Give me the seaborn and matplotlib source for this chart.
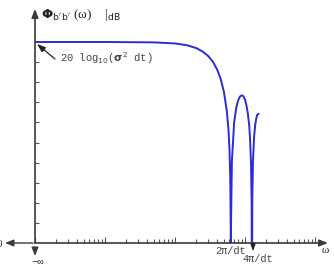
import numpy as np
import pandas as pd
import matplotlib
matplotlib.use("Agg")
import matplotlib.pyplot as plt
import seaborn as sns
from matplotlib.ticker import LogLocator, FixedLocator, NullFormatter

# ---- data (omega with dt = 1, level in dB) ----
omega = [0.01, 0.1, 0.5, 1.0, 1.5, 2.0, 2.5, 3.0, 3.5, 4.0, 4.5, 5.0, 5.5, 5.8, 6.0,
         6.15, 6.25, 6.2832, 6.32, 6.5, 7.0, 7.5, 8.0, 8.5, 9.0, 9.5, 10.0, 10.5, 11.0,
         11.5, 11.8, 12.2, 12.45, 12.566, 12.7, 13.0, 13.5, 14.0, 14.5, 15.0, 15.7]
level_db = [0.0, 0.0, -0.09, -0.36, -0.82, -1.50, -2.40, -3.54, -4.99, -6.85, -9.22,
            -12.42, -17.18, -21.7, -26.6, -33.3, -45.5, -80.0, -44.7, -29.6, -19.98,
            -16.34, -14.46, -13.55, -13.26, -13.50, -14.34, -15.80, -17.84, -20.9,
            -23.97, -30.5, -40.6, -80.0, -39.6, -29.6, -23.5, -20.55, -19.0, -18.06, -17.9]
ytick_vals = [-45, -40, -35, -30, -25, -20, -15, -10, -5]

df = pd.DataFrame({"omega": omega, "dB": level_db})

sns.set_style("white")
plt.rcParams["font.family"] = ["DejaVu Sans"]

W, H = 334, 269
fig = plt.figure(figsize=(W / 100, H / 100), dpi=100)
left_px, right_px, bottom_px, top_px = 35, 328, 243, 9
ax = fig.add_axes([left_px / W, (H - bottom_px) / H,
                   (right_px - left_px) / W, (bottom_px - top_px) / H])

sns.lineplot(data=df, x="omega", y="dB", ax=ax, color="#2b2bd9", lw=1.4,
             sort=False, estimator=None)
ax.set_xscale("log")
xmax = 0.01 * 10 ** ((right_px - left_px) / 70)
ax.set_xlim(0.01, xmax)
ymin = -50
ytop = (42 - top_px) / ((bottom_px - 42) / 50)
ax.set_ylim(ymin, ytop)

for s in ax.spines.values():
    s.set_visible(False)

axc = "#3a3a3a"
# axes with arrow heads
ax.annotate("", xy=(1, 0), xytext=(0, 0), xycoords="axes fraction",
            arrowprops=dict(arrowstyle="-|>,head_length=0.5,head_width=0.2", color=axc, lw=1.2,
                            shrinkA=0, shrinkB=0))
ax.annotate("", xy=(0, 1), xytext=(0, 0), xycoords="axes fraction",
            arrowprops=dict(arrowstyle="-|>,head_length=0.5,head_width=0.2", color=axc, lw=1.2,
                            shrinkA=0, shrinkB=0))
# left and down arrows outside the axes
ax.annotate("", xy=(5, H - bottom_px), xytext=(left_px - 2, H - bottom_px),
            xycoords="figure pixels",
            arrowprops=dict(arrowstyle="-|>,head_length=0.5,head_width=0.2", color=axc, lw=1.0,
                            shrinkA=0, shrinkB=0))
ax.annotate("", xy=(left_px, H - 256), xytext=(left_px, H - bottom_px - 4),
            xycoords="figure pixels",
            arrowprops=dict(arrowstyle="-|>,head_length=0.5,head_width=0.2", color=axc, lw=1.0,
                            shrinkA=0, shrinkB=0))

# ticks (inside)
ax.xaxis.set_major_locator(LogLocator(base=10, numticks=10))
ax.xaxis.set_minor_locator(LogLocator(base=10, subs=np.arange(2, 10), numticks=20))
ax.xaxis.set_major_formatter(NullFormatter())
ax.xaxis.set_minor_formatter(NullFormatter())
ax.yaxis.set_major_locator(FixedLocator(ytick_vals))
ax.yaxis.set_major_formatter(NullFormatter())
ax.tick_params(axis="both", which="both", direction="in", colors="#555555",
               bottom=True, left=True, top=False, right=False, width=0.8)
ax.tick_params(axis="x", which="major", length=4)
ax.tick_params(axis="x", which="minor", length=3)
ax.tick_params(axis="y", which="major", length=3)
ax.set_xlabel("")
ax.set_ylabel("")

mono = ["Liberation Mono", "DejaVu Sans Mono"]
serif = ["Liberation Serif", "DejaVu Serif"]

fig.text(41 / W, 1 - 18 / H, r"$\mathbf{\Phi}$$_{\mathrm{b'\,b'}}$ (ω)    |$_{\mathrm{dB}}$",
         fontsize=9.5, family=serif, color="#222222", ha="left", va="baseline")
fig.text(60 / W, 1 - 62 / H, r"20 log$_{10}$($\mathbf{\sigma}^2$ dt)", fontsize=7.6, family=mono,
         color="#444444", ha="left", va="baseline")
ax.annotate("", xy=(37, H - 44), xytext=(55, H - 59), xycoords="figure pixels",
            arrowprops=dict(arrowstyle="-|>,head_length=0.5,head_width=0.18", color="#222222",
                            lw=0.9, shrinkA=0, shrinkB=0))
fig.text(231 / W, 1 - 254 / H, "2π/dt", fontsize=7.4, family=mono, color="#444444",
         ha="center", va="baseline")
fig.text(258 / W, 1 - 262 / H, "4π/dt", fontsize=7.4, family=mono, color="#444444",
         ha="center", va="baseline")
ax.annotate("", xy=(253, H - 251), xytext=(253, H - 243), xycoords="figure pixels",
            arrowprops=dict(arrowstyle="-|>,head_length=0.4,head_width=0.15", color="#222222",
                            lw=0.8, shrinkA=0, shrinkB=0))
fig.text(325 / W, 1 - 253 / H, "ω", fontsize=8, family=serif, color="#222222",
         ha="center", va="baseline")
fig.text(38 / W, 1 - 265 / H, "−∞", fontsize=7.5, family=mono, color="#333333",
         ha="center", va="baseline")
fig.text(2 / W, 1 - 247 / H, "0", fontsize=8, family=serif, color="#333333",
         ha="right", va="baseline")

fig.savefig("out.png", dpi=100)
